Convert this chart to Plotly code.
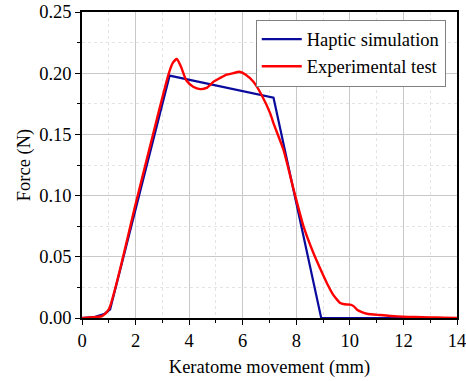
import plotly.graph_objects as go

# Haptic simulation
sim_x = [0.0, 0.5, 0.85, 1.05, 3.27, 7.15, 8.93, 14.0]
sim_y = [0.0, 0.001, 0.0035, 0.007, 0.198, 0.180, 0.0, 0.0]

# Experimental test
exp_x = [0.0, 0.5, 0.75, 1.0, 2.0, 2.79, 3.23, 3.38, 3.54, 3.7, 3.9, 4.15, 4.41, 4.65, 4.91,
         5.15, 5.4, 5.65, 5.87, 6.1, 6.4, 6.71, 7.03, 7.15, 7.52, 7.9, 8.27, 8.64, 8.9,
         9.14, 9.35, 9.52, 9.64, 9.8, 10.01, 10.15, 10.27, 10.45, 10.64, 11.14, 11.76,
         12.4, 13.0, 13.5, 14.0]
exp_y = [0.0, 0.0008, 0.0015, 0.007, 0.093, 0.162, 0.199, 0.208, 0.2116, 0.205, 0.194, 0.189, 0.187, 0.188, 0.193,
         0.196, 0.1988, 0.200, 0.2012, 0.199, 0.193, 0.182, 0.167, 0.159, 0.1375, 0.105, 0.0749, 0.0531, 0.040,
         0.0286, 0.020, 0.015, 0.0122, 0.0112, 0.0109, 0.0095, 0.0068, 0.0048, 0.0035, 0.0024, 0.0013,
         0.0008, 0.0005, 0.0003, 0.0]

x_ticks = [0, 2, 4, 6, 8, 10, 12, 14]
y_ticks = [0.00, 0.05, 0.10, 0.15, 0.20, 0.25]

font = "Liberation Serif, Times New Roman, serif"

fig = go.Figure()
fig.add_trace(go.Scatter(x=sim_x, y=sim_y, mode="lines", name="Haptic simulation",
                         line=dict(color="#0a0a9c", width=2.2)))
fig.add_trace(go.Scatter(x=exp_x, y=exp_y, mode="lines", name="Experimental test",
                         line=dict(color="#ff0000", width=2.4, shape="spline", smoothing=0.6)))

fig.update_layout(
    width=466, height=381,
    margin=dict(l=82, r=9, t=12, b=63, autoexpand=False),
    paper_bgcolor="white", plot_bgcolor="white",
    font=dict(family=font, size=18.5, color="black"),
    showlegend=True,
    legend=dict(x=0.97, y=0.975, xanchor="right", yanchor="top",
                bgcolor="white", bordercolor="#808080", borderwidth=1,
                font=dict(family=font, size=18.5), tracegroupgap=0,
                itemwidth=40),
)
fig.update_xaxes(
    range=[0, 14], tickvals=x_ticks, ticktext=[str(v) for v in x_ticks],
    showline=True, linecolor="black", linewidth=1.5, mirror=True,
    ticks="outside", ticklen=5, tickwidth=1.2, tickcolor="black",
    showgrid=True, gridcolor="#c8c8c8", gridwidth=1,
    minor=dict(dtick=1, ticks="outside", ticklen=3, tickcolor="black",
               showgrid=True, gridcolor="#e4e4e4", griddash="dot"),
    zeroline=False, automargin=False, ticklabeloverflow="allow",
    title=dict(text="Keratome movement (mm)", font=dict(family=font, size=18.5), standoff=10),
    tickfont=dict(family=font, size=18.5),
)
fig.update_yaxes(
    range=[0, 0.25], tickvals=y_ticks, ticktext=[f"{v:.2f}" for v in y_ticks],
    showline=True, linecolor="black", linewidth=1.5, mirror=True,
    ticks="outside", ticklen=5, tickwidth=1.2, tickcolor="black",
    showgrid=True, gridcolor="#c8c8c8", gridwidth=1,
    minor=dict(dtick=0.025, ticks="outside", ticklen=3, tickcolor="black",
               showgrid=True, gridcolor="#e4e4e4", griddash="dot"),
    zeroline=False, automargin=False, ticklabeloverflow="allow",
    title=dict(text="Force (N)", font=dict(family=font, size=18.5), standoff=4),
    tickfont=dict(family=font, size=18.5),
)

fig.write_html("out.html")
